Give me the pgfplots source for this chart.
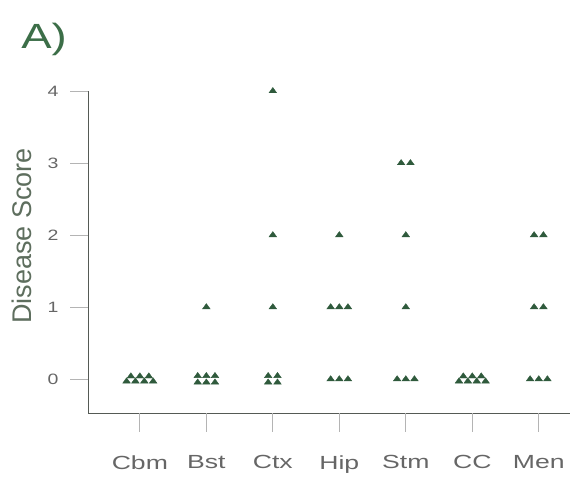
\documentclass[border=0pt]{standalone}
\usepackage{pgfplots}
\pgfplotsset{compat=1.18}
\usepackage{fontspec}
\setmainfont{Liberation Sans}
\newfontfamily\wideA[FakeStretch=1.4]{Liberation Sans}
\newfontfamily\wideB[FakeStretch=1.3]{Liberation Sans}
\usetikzlibrary{calc}
\definecolor{mk}{HTML}{2F5A3C}
\definecolor{axc}{HTML}{555A55}
\definecolor{tkc}{HTML}{B4B4B4}
\definecolor{txt}{HTML}{666666}
\definecolor{ylc}{HTML}{5E6E5E}
\definecolor{ttl}{HTML}{3C6E48}
\begin{document}
\begin{tikzpicture}
\begin{axis}[
  scale only axis, width=482bp, height=322bp,
  xmin=-0.78, xmax=6.47, ymin=-0.47, ymax=4,
  axis x line*=bottom, axis y line*=left,
  axis line style={-, color=axc, line width=1pt},
  xtick={0,1,2,3,4,5,6},
  xticklabels={Cbm,Bst,Ctx,Hip,Stm,CC,Men},
  ytick={0,1,2,3,4},
  yticklabels={0,1,2,3,4},
  major tick length=0pt,
  xticklabel style={font=\wideA\fontsize{19bp}{22bp}\selectfont, text=txt, yshift=-39bp},
  yticklabel style={font=\wideB\fontsize{15bp}{18bp}\selectfont, text=txt, xshift=-26bp},
  ylabel={Disease Score},
  ylabel style={font=\fontsize{27bp}{30bp}\selectfont, text=ylc, at={(axis description cs:-0.137,0.55)}, anchor=center},
  clip=false,
]
\addplot[only marks, mark=triangle*, mark size=3.5bp, color=mk, mark options={xscale=1.25}] coordinates {
 (-0.2,-0.03) (-0.067,-0.03) (0.067,-0.03) (0.2,-0.03)
 (-0.135,0.04) (0,0.04) (0.135,0.04)
 (0.87,-0.045) (1.0,-0.045) (1.13,-0.045)
 (0.87,0.045) (1.0,0.045) (1.13,0.045)
 (1,1)
 (1.93,-0.045) (2.07,-0.045) (1.93,0.045) (2.07,0.045)
 (2,1) (2,2) (2,4)
 (2.87,0) (3,0) (3.13,0)
 (2.87,1) (3,1) (3.13,1)
 (3,2)
 (3.87,0) (4,0) (4.13,0)
 (4,1) (4,2) (3.93,3) (4.07,3)
 (4.8,-0.03) (4.933,-0.03) (5.067,-0.03) (5.2,-0.03)
 (4.865,0.04) (5,0.04) (5.135,0.04)
 (5.87,0) (6,0) (6.13,0)
 (5.93,1) (6.07,1)
 (5.93,2) (6.07,2)
};
\node[font=\wideB\fontsize{35bp}{40bp}\selectfont, text=ttl, anchor=center] at (axis description cs:-0.091,1.16) {A)};
\end{axis}
\foreach \i in {0,...,6} {
  \draw[tkc, line width=0.8pt] ($(current axis.south west)+({51.86bp+66.48bp*\i},0bp)$) -- ($(current axis.south west)+({51.86bp+66.48bp*\i},-19bp)$);
}
\foreach \j in {0,...,4} {
  \draw[tkc, line width=0.8pt] ($(current axis.south west)+(0bp,{33.86bp+72.04bp*\j})$) -- ($(current axis.south west)+(-18bp,{33.86bp+72.04bp*\j})$);
}
\pgfresetboundingbox
\path[use as bounding box] ($(current axis.south west)+(-88bp,-66bp)$) rectangle ($(current axis.north east)+(0,91bp)$);
\end{tikzpicture}
\end{document}
